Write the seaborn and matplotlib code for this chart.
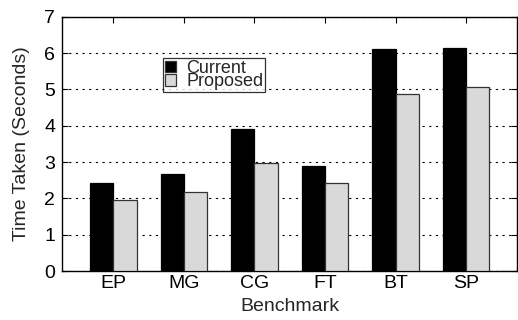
import matplotlib
matplotlib.use("Agg")
import matplotlib.pyplot as plt
import seaborn as sns
import pandas as pd

benchmarks = ["EP", "MG", "CG", "FT", "BT", "SP"]
current = [2.43, 2.67, 3.92, 2.89, 6.11, 6.15]
proposed = [1.95, 2.17, 2.97, 2.41, 4.88, 5.06]
series = ["Current", "Proposed"]

df = pd.DataFrame({
    "Benchmark": benchmarks * 2,
    "Time": current + proposed,
    "Series": [series[0]] * len(benchmarks) + [series[1]] * len(benchmarks),
})

sns.set_style("ticks")
plt.rcParams["font.family"] = ["Liberation Sans", "DejaVu Sans"]

fig = plt.figure(figsize=(5.18, 3.2), dpi=100)
ax = fig.add_axes([62 / 518, 1 - 271 / 320, 1 - 62 / 518 - 0.001, (271 - 16.7) / 320])

sns.barplot(data=df, x="Benchmark", y="Time", hue="Series",
            palette=["#000000", "#d9d9d9"], width=0.66, gap=0,
            edgecolor="#333333", linewidth=0.9, ax=ax, zorder=3, legend=True)

for bar in ax.patches[:len(benchmarks)]:
    bar.set_edgecolor("#000000")

ax.set_ylim(0, 7)
ax.set_xlim(-0.73, 5.73)
ax.set_yticks(range(0, 8))
ax.yaxis.grid(True, linestyle=(0, (2, 4)), color="black", linewidth=0.8, zorder=0)
ax.set_axisbelow(True)
ax.tick_params(direction="in", top=True, right=True, labelsize=14, length=4, width=0.8,
               colors="black", pad=5)
ax.tick_params(axis="x", bottom=False, pad=3)
for s in ax.spines.values():
    s.set_visible(True)
    s.set_color("black")
    s.set_linewidth(1.0)
ax.set_xlabel("Benchmark", fontsize=14, labelpad=4)
ax.set_ylabel("Time Taken (Seconds)", fontsize=14, labelpad=10)

leg = ax.legend(loc="upper left", bbox_to_anchor=(163 / 518, 1 - 58 / 320),
                bbox_transform=fig.transFigure, fontsize=13, frameon=True,
                fancybox=False, shadow=False, handlelength=0.6, handleheight=0.6,
                handletextpad=0.6, labelspacing=-0.2, borderpad=0.1,
                borderaxespad=0)
leg.get_frame().set_edgecolor("black")
leg.get_frame().set_linewidth(0.9)

fig.savefig("out.png", dpi=100)
